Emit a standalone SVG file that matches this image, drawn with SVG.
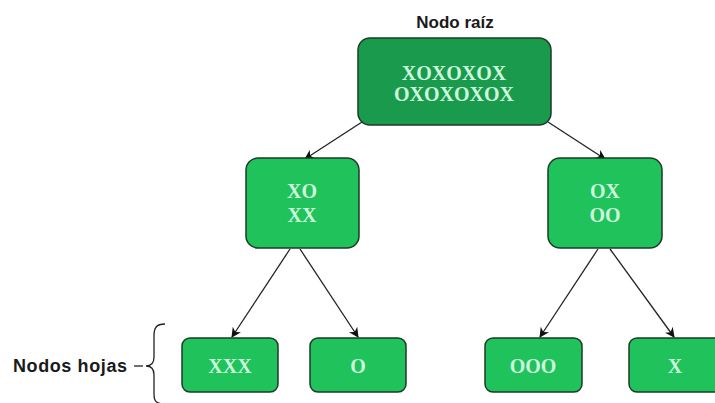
<svg xmlns="http://www.w3.org/2000/svg" width="715" height="403" viewBox="0 0 715 403">
<defs>
<style>
.n{fill:#20c25c;stroke:#1e3a28;stroke-width:1.5}
.r{fill:#1a9a4c;stroke:#1e3a28;stroke-width:1.5}
.t{font-family:"Liberation Serif",serif;font-weight:bold;font-size:20px;fill:#cdf7dc;text-anchor:middle}
.l{font-family:"Liberation Sans",Arial,sans-serif;font-weight:bold;font-size:18px;fill:#1a1a1a}
.c{stroke:#222;stroke-width:1.3;fill:none;marker-end:url(#a)}
</style>
<marker id="a" viewBox="0 0 10 10" refX="9" refY="5" markerWidth="10" markerHeight="10" orient="auto" markerUnits="userSpaceOnUse">
<path d="M0,0 L10,5 L0,10 L3,5 Z" fill="#111"/>
</marker>
</defs>
<rect width="715" height="403" fill="#fff"/>
<text class="l" x="455" y="28" text-anchor="middle" style="font-size:17px">Nodo raíz</text>
<g id="connectors">
<line class="c" x1="362" y1="122" x2="305" y2="159"/>
<line class="c" x1="548" y1="122" x2="605" y2="159"/>
<line class="c" x1="290" y1="249" x2="232" y2="337"/>
<line class="c" x1="300" y1="249" x2="358" y2="337"/>
<line class="c" x1="598" y1="249" x2="540" y2="337"/>
<line class="c" x1="610" y1="249" x2="674" y2="337"/>
</g>
<g id="root"><rect class="r" x="358" y="38" width="193" height="87" rx="12"/>
<text class="t" x="454" y="80">XOXOXOX</text><text class="t" x="454" y="101">OXOXOXOX</text></g>
<g id="n-xo"><rect class="n" x="246" y="158" width="113" height="90" rx="12"/>
<text class="t" x="302" y="198">XO</text><text class="t" x="302" y="222">XX</text></g>
<g id="n-ox"><rect class="n" x="548" y="158" width="114" height="90" rx="12"/>
<text class="t" x="605" y="198">OX</text><text class="t" x="605" y="222">OO</text></g>
<g id="leaf-xxx"><rect class="n" x="182" y="338" width="96" height="54" rx="8"/><text class="t" x="230" y="373">XXX</text></g>
<g id="leaf-o"><rect class="n" x="310" y="338" width="96" height="54" rx="8"/><text class="t" x="358" y="373">O</text></g>
<g id="leaf-ooo"><rect class="n" x="485" y="338" width="97" height="54" rx="8"/><text class="t" x="533" y="373">OOO</text></g>
<g id="leaf-x"><rect class="n" x="629" y="338" width="96" height="54" rx="8"/><text class="t" x="675" y="373">X</text></g>
<g id="leaves-label">
<text class="l" x="13" y="372" textLength="114">Nodos hojas</text>
<line x1="134" y1="366" x2="143" y2="366" stroke="#222" stroke-width="1.3"/>
<path d="M165,324 C156,324 154,328 154,336 L154,357 C154,363 152,366 146,366 C152,366 154,369 154,375 L154,394 C154,401 156,404 165,404" stroke="#222" stroke-width="1.3" fill="none"/>
</g>
</svg>
